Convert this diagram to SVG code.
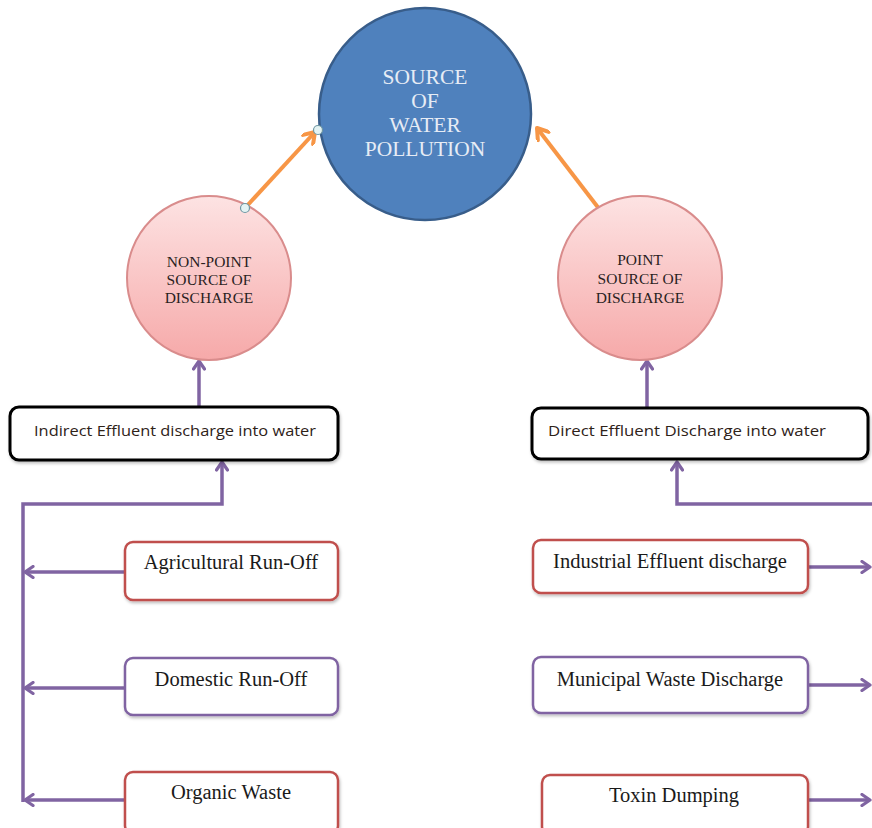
<svg xmlns="http://www.w3.org/2000/svg" width="872" height="828" viewBox="0 0 872 828">
<defs>
<linearGradient id="pink" x1="0" y1="0" x2="0" y2="1">
<stop offset="0" stop-color="#fde3e3"/>
<stop offset="1" stop-color="#f6a9a9"/>
</linearGradient>
<filter id="sh" x="-10%" y="-10%" width="130%" height="140%">
<feDropShadow dx="1" dy="2" stdDeviation="1.5" flood-color="#000" flood-opacity="0.25"/>
</filter>
<marker id="pa" viewBox="0 0 14 14" refX="12" refY="7" markerWidth="14" markerHeight="14" markerUnits="userSpaceOnUse" orient="auto">
<polyline points="4,1.5 12,7 4,12.5" fill="none" stroke="#8064a2" stroke-width="3.2" stroke-linecap="round" stroke-linejoin="round"/>
</marker>
<marker id="oa" viewBox="0 0 14 14" refX="12" refY="7" markerWidth="16" markerHeight="16" markerUnits="userSpaceOnUse" orient="auto">
<polyline points="3,1 12,7 3,13" fill="none" stroke="#f79646" stroke-width="3.5" stroke-linecap="round" stroke-linejoin="round"/>
</marker>
<style>
.serif{font-family:"Liberation Serif","Times New Roman",serif;}
.sans{font-family:"Open Sans","Liberation Sans",sans-serif;}
.box{fill:#fff;stroke-width:2.5;filter:url(#sh);}
.red{stroke:#c0504d;}
.pur{stroke:#8064a2;}
.blk{stroke:#000;stroke-width:3;}
.pl{fill:none;stroke:#8064a2;stroke-width:3.5;}
.ol{fill:none;stroke:#f79646;stroke-width:4;}
.lbl{font-size:20.5px;fill:#1a1a1a;text-anchor:middle;}
.sl{font-size:14.5px;fill:#2e2218;text-anchor:middle;}
.pk{font-size:15.5px;fill:#2a1e1e;text-anchor:middle;}
.wt{font-size:21.5px;fill:#e6ecf5;text-anchor:middle;}
.hd{fill:#e4f3f3;stroke:#6f97a3;stroke-width:1.2;}
</style>
</defs>

<g id="connectors">
<line class="ol" x1="245" y1="208" x2="315" y2="132" marker-end="url(#oa)"/>
<line class="ol" x1="600" y1="210" x2="537" y2="128" marker-end="url(#oa)"/>
<line class="pl" x1="199" y1="407" x2="199" y2="361" marker-end="url(#pa)"/>
<line class="pl" x1="647" y1="408" x2="647" y2="361" marker-end="url(#pa)"/>
<polyline class="pl" points="23,802 23,504 222,504 222,462" marker-end="url(#pa)"/>
<polyline class="pl" points="872,504 677,504 677,462" marker-end="url(#pa)"/>
<line class="pl" x1="125" y1="572" x2="25" y2="572" marker-end="url(#pa)"/>
<line class="pl" x1="125" y1="688" x2="25" y2="688" marker-end="url(#pa)"/>
<line class="pl" x1="125" y1="800" x2="25" y2="800" marker-end="url(#pa)"/>
<line class="pl" x1="808" y1="567" x2="870" y2="567" marker-end="url(#pa)"/>
<line class="pl" x1="808" y1="685" x2="870" y2="685" marker-end="url(#pa)"/>
<line class="pl" x1="808" y1="800" x2="870" y2="800" marker-end="url(#pa)"/>
</g>

<g id="source">
<circle cx="425" cy="114" r="106" fill="#4f81bd" stroke="#385d8a" stroke-width="2.5"/>
<text class="serif wt" x="425" y="84">SOURCE</text>
<text class="serif wt" x="425" y="108">OF</text>
<text class="serif wt" x="425" y="132">WATER</text>
<text class="serif wt" x="425" y="156">POLLUTION</text>
</g>

<g id="nonpoint">
<circle cx="209" cy="278" r="82" fill="url(#pink)" stroke="#d98c8c" stroke-width="2"/>
<text class="serif pk" x="209" y="267">NON-POINT</text>
<text class="serif pk" x="209" y="285">SOURCE OF</text>
<text class="serif pk" x="209" y="303">DISCHARGE</text>
</g>

<g id="point">
<circle cx="640" cy="278" r="82" fill="url(#pink)" stroke="#d98c8c" stroke-width="2"/>
<text class="serif pk" x="640" y="265">POINT</text>
<text class="serif pk" x="640" y="284">SOURCE OF</text>
<text class="serif pk" x="640" y="303">DISCHARGE</text>
</g>

<g id="handles">
<circle class="hd" cx="318" cy="130" r="4.5"/>
<circle class="hd" cx="245" cy="208" r="4.5"/>
</g>

<g id="indirect">
<rect class="box blk" x="10" y="407" width="328" height="53" rx="9"/>
<text class="sans sl" x="175" y="436" textLength="282" lengthAdjust="spacingAndGlyphs">Indirect Effluent  discharge into water</text>
</g>

<g id="direct">
<rect class="box blk" x="532" y="408" width="336" height="51" rx="9"/>
<text class="sans sl" x="687" y="436" textLength="278" lengthAdjust="spacingAndGlyphs">Direct Effluent  Discharge into  water</text>
</g>

<g id="agri">
<rect class="box red" x="125" y="542" width="213" height="58" rx="8"/>
<text class="serif lbl" x="231" y="569">Agricultural Run-Off</text>
</g>

<g id="domestic">
<rect class="box pur" x="125" y="658" width="213" height="57" rx="8"/>
<text class="serif lbl" x="231" y="686">Domestic Run-Off</text>
</g>

<g id="organic">
<rect class="box red" x="125" y="772" width="213" height="62" rx="8"/>
<text class="serif lbl" x="231" y="799">Organic Waste</text>
</g>

<g id="industrial">
<rect class="box red" x="533" y="540" width="275" height="53" rx="8"/>
<text class="serif lbl" x="670" y="568">Industrial Effluent discharge</text>
</g>

<g id="municipal">
<rect class="box pur" x="533" y="657" width="275" height="56" rx="8"/>
<text class="serif lbl" x="670" y="686">Municipal Waste Discharge</text>
</g>

<g id="toxin">
<rect class="box red" x="542" y="775" width="266" height="60" rx="8"/>
<text class="serif lbl" x="674" y="802">Toxin Dumping</text>
</g>
</svg>
